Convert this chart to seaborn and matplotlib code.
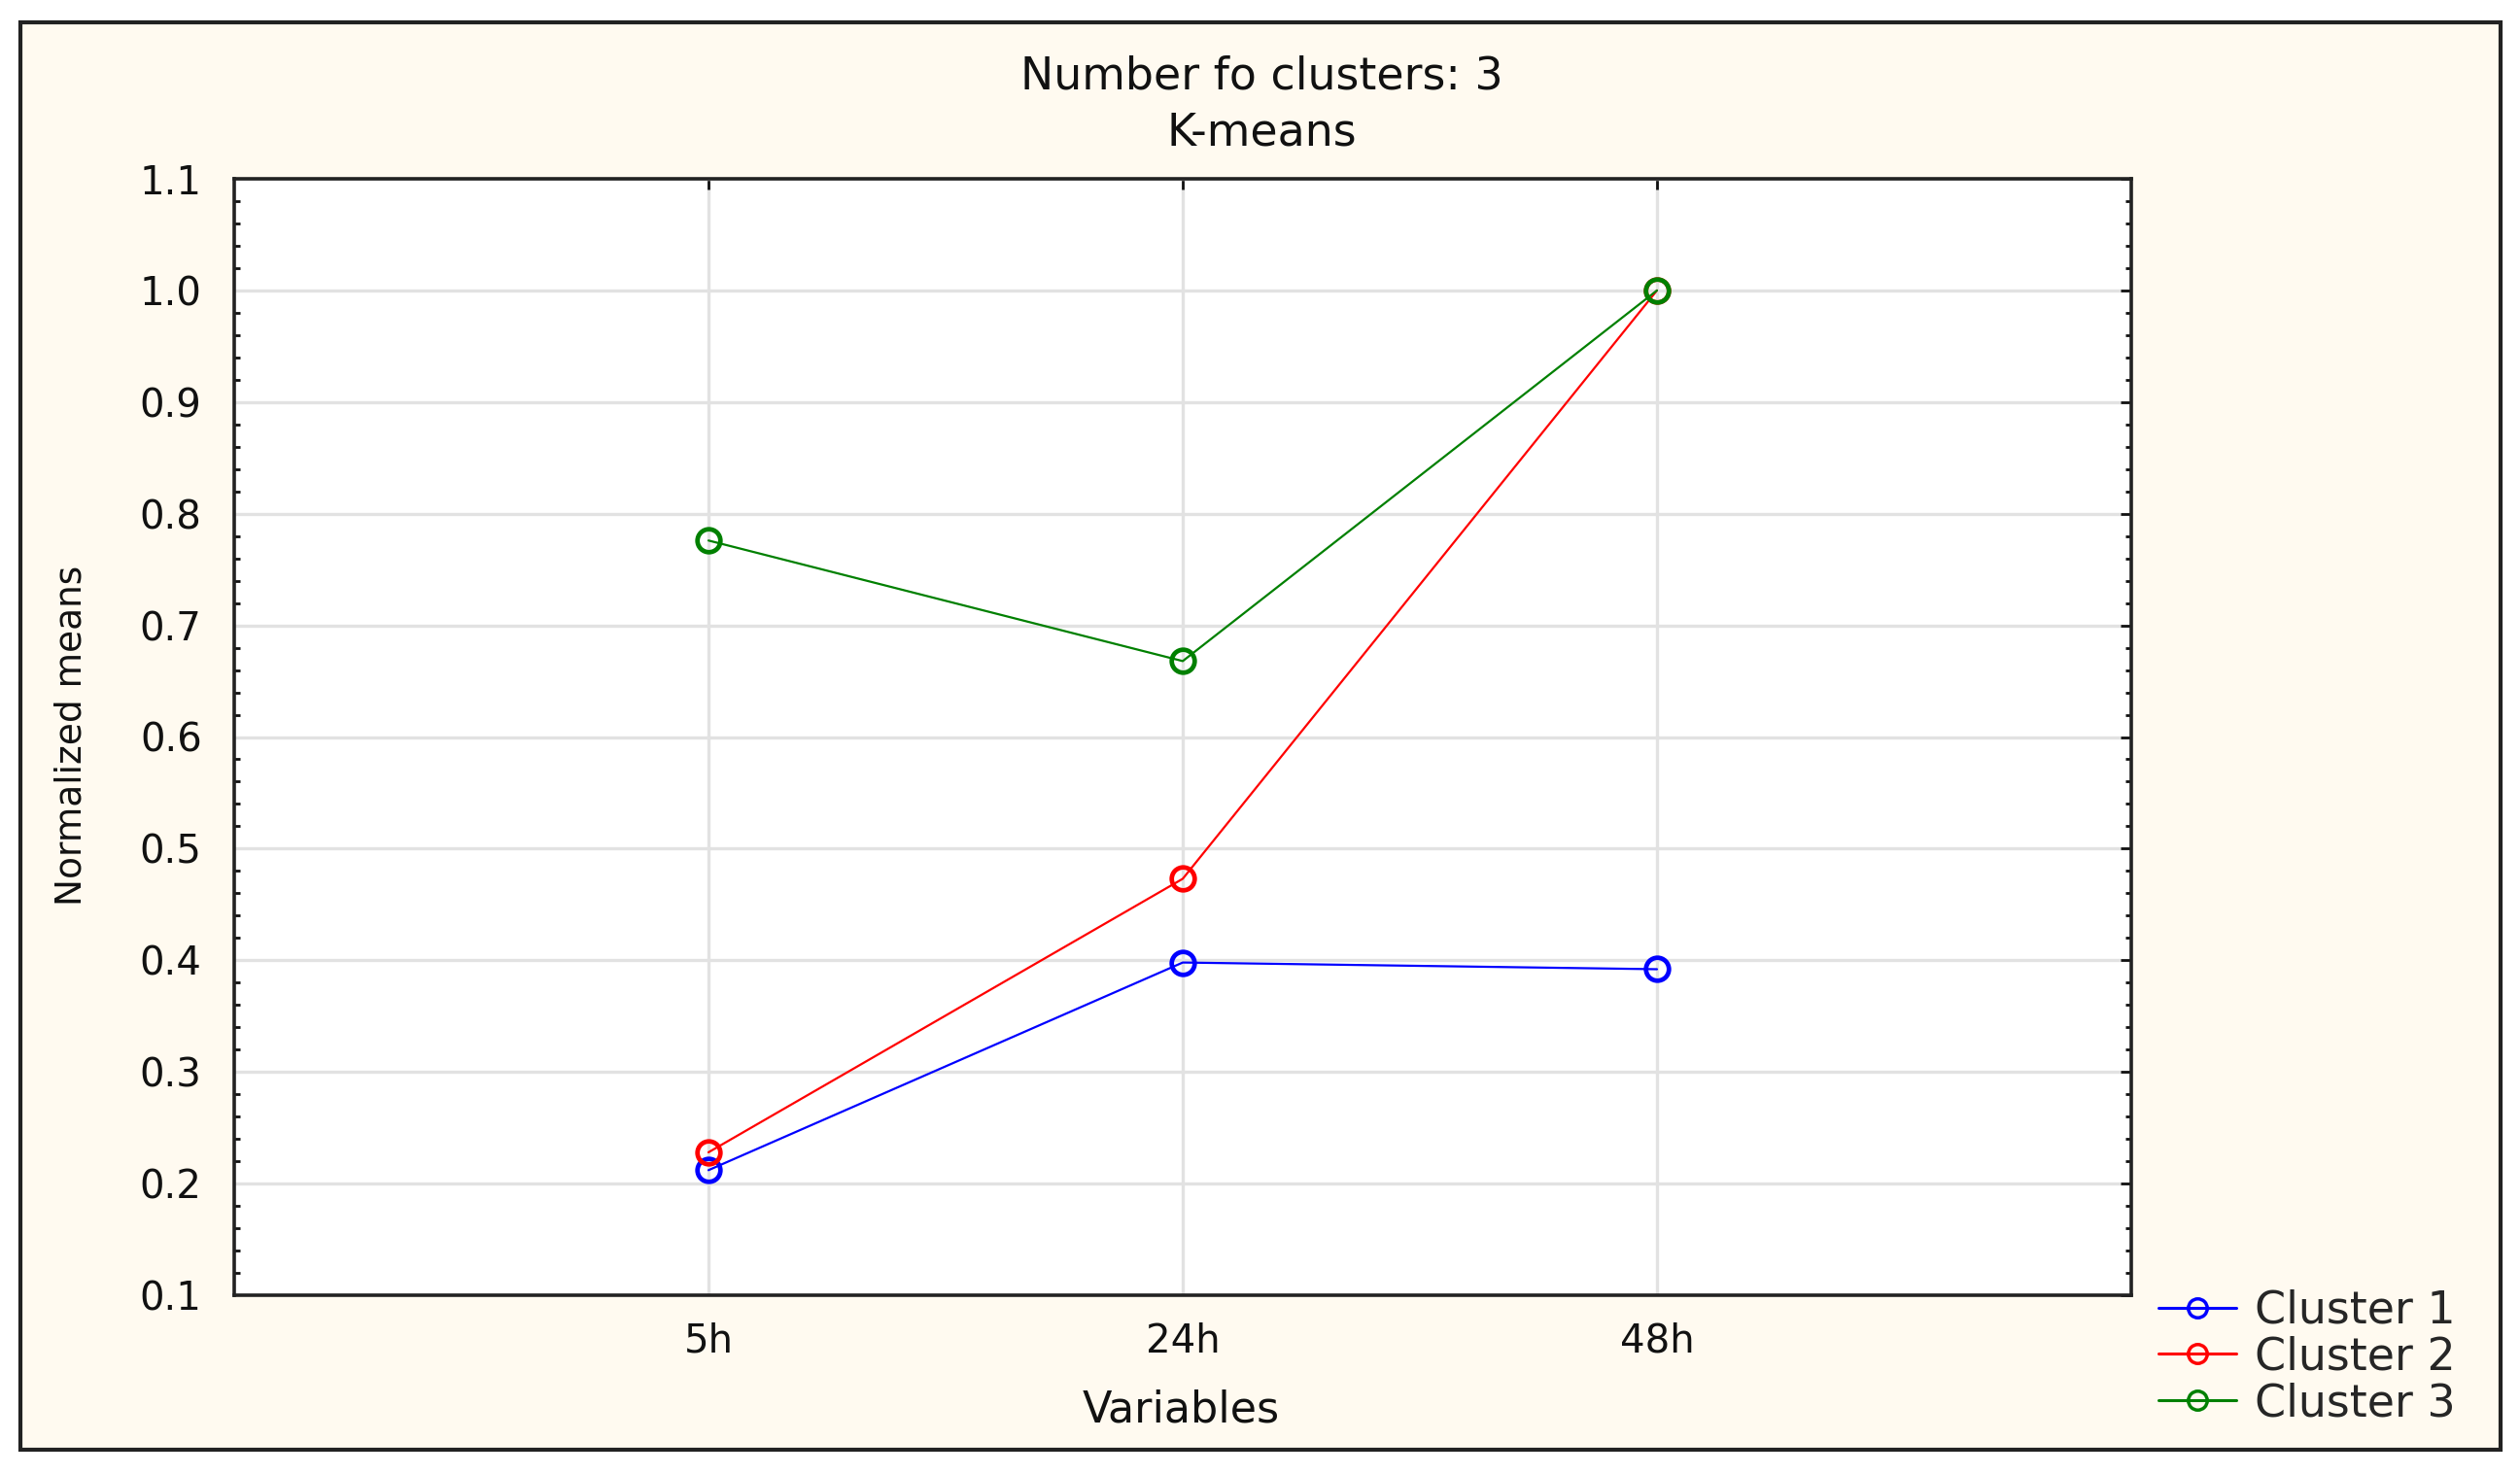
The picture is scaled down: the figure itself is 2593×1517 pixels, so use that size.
import pandas as pd
import numpy as np
import matplotlib
matplotlib.use('Agg')
import matplotlib.pyplot as plt
from matplotlib.patches import Rectangle
from matplotlib.ticker import MultipleLocator, AutoMinorLocator
import seaborn as sns

# Data
variables = ['5h', '24h', '48h']
cluster1 = [0.212, 0.398, 0.392]
cluster2 = [0.228, 0.473, 1.0]
cluster3 = [0.776, 0.668, 1.0]
cluster_names = ['Cluster 1', 'Cluster 2', 'Cluster 3']
colors = ['#0000ff', '#ff0000', '#008000']

df = pd.DataFrame({
    'x': list(range(len(variables))) * 3,
    'value': cluster1 + cluster2 + cluster3,
    'cluster': [c for c in cluster_names for _ in variables],
})

sns.set_style('white')
plt.rcParams['font.family'] = ['DejaVu Sans']

W, H = 2593, 1517
fig = plt.figure(figsize=(W / 100, H / 100), dpi=100)
fig.patch.set_facecolor('white')
# cream panel with black frame
fig.patches.append(Rectangle((21 / W, 1 - 1492 / H), (2573 - 21) / W, (1492 - 23) / H,
                             transform=fig.transFigure, facecolor='#fffaf0',
                             edgecolor='#222222', linewidth=3, zorder=-5))

ax = fig.add_axes([241 / W, 1 - 1333 / H, (2193 - 241) / W, (1333 - 184) / H])
ax.set_zorder(5)
ax.set_facecolor('white')

sns.lineplot(data=df, x='x', y='value', hue='cluster', palette=colors,
             marker='o', markersize=17, markerfacecolor='none', markeredgewidth=3.4,
             linewidth=1.6, ax=ax, legend=False, zorder=3)
for line, c in zip(ax.get_lines(), colors):
    line.set_markeredgecolor(c)

ax.set_xlim(-1.0, 3.0)
ax.set_ylim(0.1, 1.1)
ax.set_xticks(range(len(variables)))
ax.set_xticklabels(variables)
ax.yaxis.set_major_locator(MultipleLocator(0.1))
ax.yaxis.set_major_formatter(matplotlib.ticker.FormatStrFormatter('%.1f'))
ax.yaxis.set_minor_locator(AutoMinorLocator(5))
ax.grid(True, which='major', color='#e2e2e2', linewidth=2.4, zorder=0)
ax.set_axisbelow(True)
for s in ax.spines.values():
    s.set_color('#222222')
    s.set_linewidth(2.6)
ax.tick_params(axis='both', which='major', direction='in', length=8, width=2,
               labelsize=29, top=True, right=True, colors='#111111')
ax.tick_params(axis='y', which='minor', direction='in', length=4, width=2, right=True, left=True,
               color='#111111')
ax.tick_params(axis='y', which='major', pad=24)
ax.tick_params(axis='x', which='major', pad=20)
ax.set_xlabel('')
ax.set_ylabel('')

fig.text(74 / W, 1 - 757 / H, 'Normalized means', rotation=90, ha='center', va='center',
         fontsize=27, color='#111111')
fig.text(1215 / W, 1 - 1464 / H, 'Variables', ha='center', va='baseline',
         fontsize=32, color='#111111')
fig.text(1298 / W, 1 - 92 / H, 'Number fo clusters: 3', ha='center', va='baseline',
         fontsize=33, color='#111111')
fig.text(1298 / W, 1 - 149 / H, 'K-means', ha='center', va='baseline',
         fontsize=33, color='#111111')

# legend
handles = [matplotlib.lines.Line2D([], [], color=c, linewidth=2.2, marker='o', markersize=14,
                                   markerfacecolor='none', markeredgewidth=2.5) for c in colors]
fig.legend(handles, cluster_names, loc='center left', bbox_to_anchor=(2221 / W, 1 - 1397 / H),
           frameon=False, fontsize=33, handlelength=1.75, handletextpad=0.42,
           labelspacing=0.06, borderpad=0, borderaxespad=0)

fig.savefig('out.png', dpi=100, facecolor=fig.get_facecolor())
